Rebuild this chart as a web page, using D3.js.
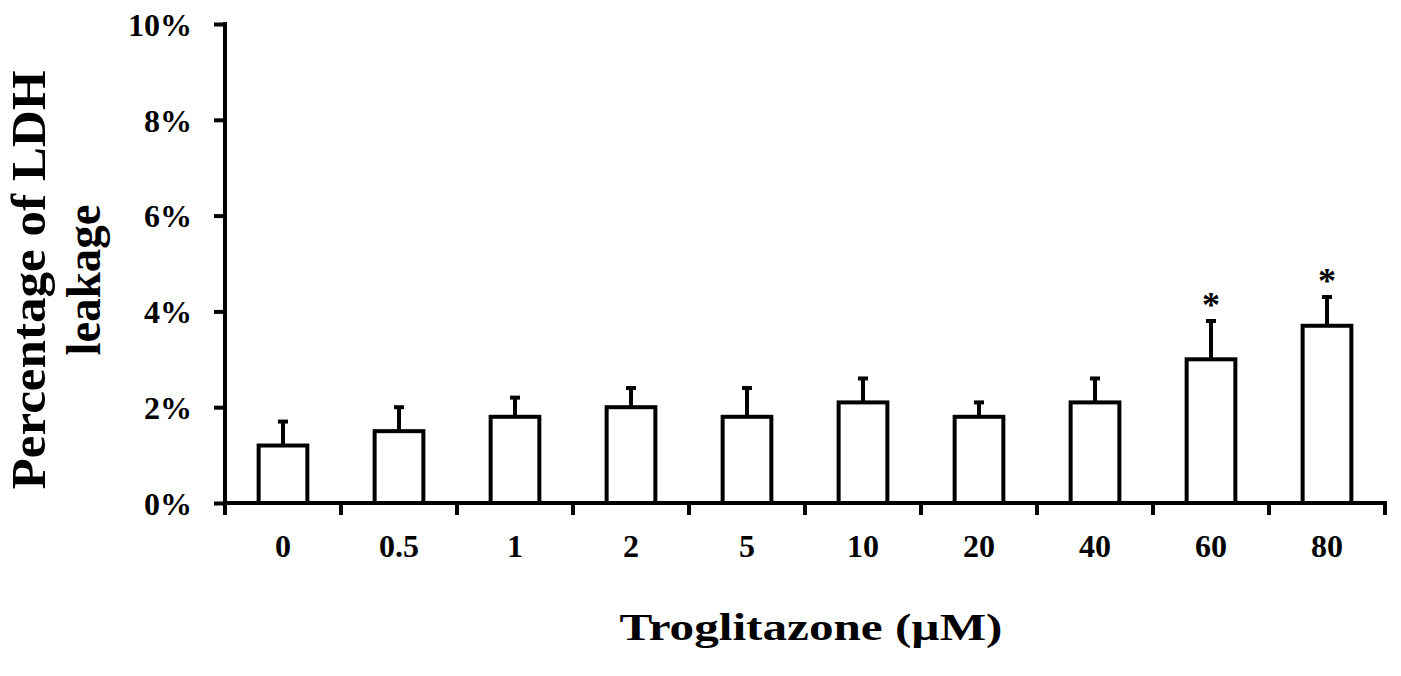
<!DOCTYPE html>
<html>
<head>
<meta charset="utf-8">
<title>LDH leakage</title>
<style>
  body { margin: 0; background: white; }
  svg text { font-family: "Liberation Serif", "Times New Roman", serif; font-weight: bold; fill: black; }
</style>
</head>
<body>
<div id="chart"></div>
<script src="https://d3js.org/d3.v7.min.js"></script>
<script>
// data
var doses = ["0", "0.5", "1", "2", "5", "10", "20", "40", "60", "80"];
var leakage = [1.2, 1.5, 1.8, 2.0, 1.8, 2.1, 1.8, 2.1, 3.0, 3.7];
var errUpper = [1.7, 2.0, 2.2, 2.4, 2.4, 2.6, 2.1, 2.6, 3.8, 4.3];
var signif = [false, false, false, false, false, false, false, false, true, true];
var yTicks = [0, 2, 4, 6, 8, 10];

var width = 1401, height = 676;
var margin = {top: 24, right: 16, bottom: 173, left: 225};

var svg = d3.select("#chart").append("svg")
    .attr("width", width)
    .attr("height", height);

var g = svg.append("g")
    .attr("transform", "translate(" + margin.left + "," + margin.top + ")");

var w = width - margin.left - margin.right,
    h = height - margin.top - margin.bottom;

var x = d3.scaleBand().domain(doses).range([0, w]).paddingInner(0.58).paddingOuter(0.29);
var xTickScale = d3.scaleLinear().domain([0, doses.length]).range([0, w]);
var y = d3.scaleLinear().domain([0, 10]).range([h, 0]);

var rows = doses.map(function(d, i) {
    return {dose: d, v: leakage[i], e: errUpper[i], s: signif[i]};
});

// error bars (drawn first so the bar outline covers the stem base)
var capW = 10;
g.selectAll(".err").data(rows).enter().append("line")
    .attr("class", "err")
    .attr("x1", function(d) { return x(d.dose) + x.bandwidth() / 2; })
    .attr("x2", function(d) { return x(d.dose) + x.bandwidth() / 2; })
    .attr("y1", function(d) { return y(d.v); })
    .attr("y2", function(d) { return y(d.e); })
    .attr("stroke", "black").attr("stroke-width", 4);

g.selectAll(".cap").data(rows).enter().append("line")
    .attr("class", "cap")
    .attr("x1", function(d) { return x(d.dose) + x.bandwidth() / 2 - capW / 2; })
    .attr("x2", function(d) { return x(d.dose) + x.bandwidth() / 2 + capW / 2; })
    .attr("y1", function(d) { return y(d.e); })
    .attr("y2", function(d) { return y(d.e); })
    .attr("stroke", "black").attr("stroke-width", 4);

g.selectAll(".bar").data(rows).enter().append("rect")
    .attr("class", "bar")
    .attr("x", function(d) { return x(d.dose); })
    .attr("y", function(d) { return y(d.v); })
    .attr("width", x.bandwidth())
    .attr("height", function(d) { return h - y(d.v); })
    .attr("fill", "white")
    .attr("stroke", "black")
    .attr("stroke-width", 4);

// significance stars
g.selectAll(".star").data(rows.filter(function(d) { return d.s; })).enter().append("text")
    .attr("class", "star")
    .attr("x", function(d) { return x(d.dose) + x.bandwidth() / 2; })
    .attr("y", function(d) { return y(d.e) - 4; })
    .attr("text-anchor", "middle")
    .style("font-size", "36px")
    .text("*");

// y axis
var yAxis = d3.axisLeft(y).tickValues(yTicks).tickSize(11).tickPadding(22)
    .tickFormat(function(d) { return d + "%"; });
var ya = g.append("g").attr("class", "y axis").call(yAxis);
ya.select(".domain").attr("stroke-width", 4).attr("d", "M0," + (h + 2) + "V-2");
ya.selectAll(".tick line").attr("stroke-width", 4).attr("x1", 2);
ya.selectAll(".tick text").style("font-size", "32px").attr("dy", "0.35em");

// x axis: ticks at the band edges
var xa = g.append("g").attr("class", "x axis").attr("transform", "translate(0," + h + ")");
xa.append("line")
    .attr("x1", -2).attr("x2", w + 2)
    .attr("stroke", "black").attr("stroke-width", 4);
xa.selectAll(".xtick").data(d3.range(doses.length + 1)).enter().append("line")
    .attr("class", "xtick")
    .attr("x1", function(d) { return xTickScale(d); })
    .attr("x2", function(d) { return xTickScale(d); })
    .attr("y1", 0).attr("y2", 12)
    .attr("stroke", "black").attr("stroke-width", 4);
xa.selectAll(".xlabel").data(doses).enter().append("text")
    .attr("class", "xlabel")
    .attr("x", function(d) { return x(d) + x.bandwidth() / 2; })
    .attr("y", 54)
    .attr("text-anchor", "middle")
    .style("font-size", "32px")
    .text(function(d) { return d; });

// axis titles
svg.append("text")
    .attr("x", 811).attr("y", 640)
    .attr("text-anchor", "middle")
    .attr("textLength", 383).attr("lengthAdjust", "spacingAndGlyphs")
    .style("font-size", "38px")
    .text("Troglitazone (\u00b5M)");

var yl = svg.append("g").attr("transform", "translate(0,280) rotate(-90)");
yl.append("text")
    .attr("x", 0).attr("y", 45)
    .attr("text-anchor", "middle")
    .attr("textLength", 419).attr("lengthAdjust", "spacingAndGlyphs")
    .style("font-size", "48px")
    .text("Percentage of LDH");
yl.append("text")
    .attr("x", 0).attr("y", 100)
    .attr("text-anchor", "middle")
    .attr("textLength", 151).attr("lengthAdjust", "spacingAndGlyphs")
    .style("font-size", "48px")
    .text("leakage");
</script>
</body>
</html>
